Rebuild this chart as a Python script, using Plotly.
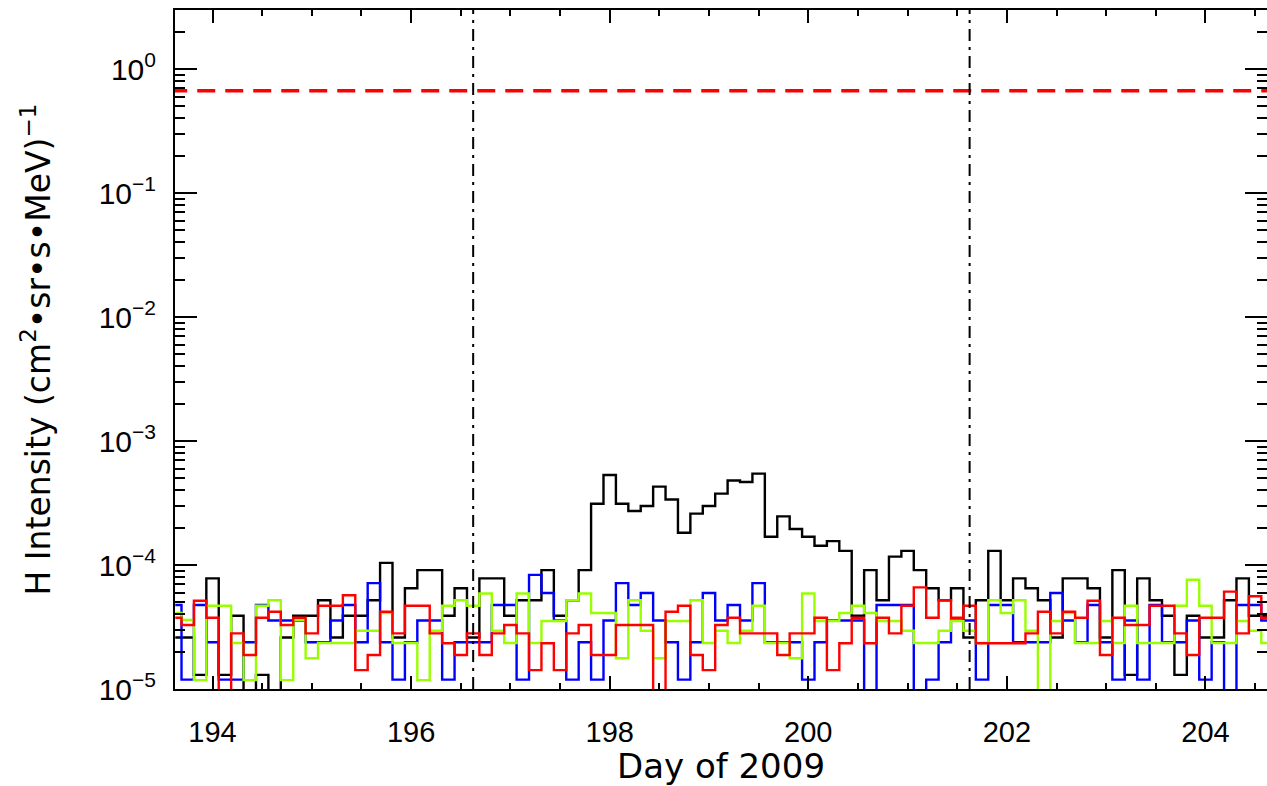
import numpy as np
import plotly.graph_objects as go

# 3-hour bins, centred on day 193.625 + k*0.125
DAY_START = 193.625
BIN_DAYS = 0.125

black_vals = [2.6e-5, 2.6e-5, 1.3e-5, 7.8e-5, 1.3e-5, 3.9e-5, 0, 1.3e-5, 0, 2.6e-5,
              3.9e-5, 3.9e-5, 5.2e-5, 2.6e-5, 3.9e-5, 3.9e-5, 5.2e-5, 1.04e-4, 2.6e-5, 6.5e-5,
              9.1e-5, 9.1e-5, 3.9e-5, 6.5e-5, 2.6e-5, 7.8e-5, 7.8e-5, 3.9e-5, 5.2e-5, 5.2e-5,
              9.1e-5, 3.9e-5, 5.2e-5, 9.1e-5, 3.12e-4, 5.33e-4, 3.12e-4, 2.73e-4, 2.99e-4, 4.29e-4,
              3.38e-4, 1.82e-4, 2.6e-4, 2.99e-4, 3.77e-4, 4.81e-4, 4.68e-4, 5.46e-4, 1.69e-4, 2.47e-4,
              1.95e-4, 1.69e-4, 1.43e-4, 1.56e-4, 1.3e-4, 3.9e-5, 9.1e-5, 5.2e-5, 1.17e-4, 1.3e-4,
              9.1e-5, 6.5e-5, 5.2e-5, 6.5e-5, 2.6e-5, 5.2e-5, 1.3e-4, 5.2e-5, 7.8e-5, 6.5e-5,
              5.2e-5, 2.6e-5, 7.8e-5, 7.8e-5, 6.5e-5, 2.6e-5, 9.1e-5, 1.3e-5, 7.8e-5, 5.2e-5,
              3.9e-5, 1.3e-5, 3.9e-5, 2.6e-5, 2.6e-5, 5.2e-5, 7.8e-5, 3.9e-5, 3.9e-5]

blue_vals = [4.76e-5, 1.19e-5, 4.76e-5, 2.38e-5, 1.19e-5, 1.19e-5, 2.38e-5, 4.76e-5, 3.57e-5, 3.57e-5,
             3.57e-5, 2.38e-5, 2.38e-5, 3.57e-5, 4.76e-5, 2.38e-5, 7.14e-5, 2.38e-5, 1.19e-5, 2.38e-5,
             3.57e-5, 3.57e-5, 1.19e-5, 2.38e-5, 2.38e-5, 2.38e-5, 4.76e-5, 4.76e-5, 1.19e-5, 8.33e-5,
             5.95e-5, 3.57e-5, 1.19e-5, 2.38e-5, 1.19e-5, 3.57e-5, 7.14e-5, 4.76e-5, 5.95e-5, 3.57e-5,
             2.38e-5, 1.19e-5, 2.38e-5, 5.95e-5, 3.57e-5, 4.76e-5, 3.57e-5, 7.14e-5, 2.38e-5, 2.38e-5,
             2.38e-5, 1.19e-5, 2.38e-5, 3.57e-5, 3.57e-5, 3.57e-5, 0, 4.76e-5, 4.76e-5, 4.76e-5,
             0, 1.19e-5, 2.38e-5, 3.57e-5, 3.57e-5, 1.19e-5, 4.76e-5, 4.76e-5, 2.38e-5, 2.38e-5,
             2.38e-5, 5.95e-5, 3.57e-5, 2.38e-5, 4.76e-5, 2.38e-5, 1.19e-5, 3.57e-5, 1.19e-5, 4.76e-5,
             2.38e-5, 2.38e-5, 3.57e-5, 1.19e-5, 2.38e-5, 0, 4.76e-5, 4.76e-5, 3.57e-5]

green_vals = [4.1e-5, 3.6e-5, 1.18e-5, 4.7e-5, 4.7e-5, 2.35e-5, 1.18e-5, 4.7e-5, 5.2e-5, 1.18e-5,
              3.6e-5, 1.77e-5, 2.35e-5, 2.35e-5, 2.35e-5, 2.95e-5, 2.95e-5, 4.1e-5, 2.35e-5, 2.35e-5,
              1.18e-5, 2.95e-5, 4.7e-5, 5.2e-5, 4.7e-5, 5.9e-5, 2.95e-5, 2.35e-5, 5.9e-5, 2.35e-5,
              3.54e-5, 3.54e-5, 5.2e-5, 5.9e-5, 4.1e-5, 4.1e-5, 1.77e-5, 5.2e-5, 2.95e-5, 1.77e-5,
              3.54e-5, 3.54e-5, 5.2e-5, 2.35e-5, 2.95e-5, 2.35e-5, 2.95e-5, 4.7e-5, 2.35e-5, 2.35e-5,
              1.77e-5, 5.9e-5, 3.54e-5, 3.54e-5, 4.1e-5, 4.7e-5, 4.1e-5, 3.54e-5, 3.54e-5, 2.95e-5,
              2.35e-5, 2.35e-5, 2.95e-5, 3.54e-5, 2.95e-5, 2.35e-5, 5.2e-5, 4.1e-5, 5.2e-5, 2.95e-5,
              0, 3.54e-5, 4.1e-5, 2.35e-5, 2.35e-5, 3.54e-5, 2.35e-5, 4.7e-5, 2.35e-5, 2.35e-5,
              2.35e-5, 4.7e-5, 7.6e-5, 4.7e-5, 2.35e-5, 2.35e-5, 3.54e-5, 2.95e-5, 2.35e-5]

red_vals = [3.76e-5, 3.28e-5, 5.15e-5, 3.76e-5, 0, 2.81e-5, 1.88e-5, 3.76e-5, 4.2e-5, 3.28e-5,
            3.76e-5, 2.81e-5, 4.7e-5, 4.7e-5, 5.7e-5, 1.42e-5, 1.88e-5, 4.2e-5, 2.81e-5, 4.7e-5,
            4.7e-5, 2.81e-5, 2.34e-5, 1.88e-5, 2.81e-5, 1.88e-5, 2.81e-5, 3.28e-5, 2.81e-5, 1.42e-5,
            2.34e-5, 1.42e-5, 2.81e-5, 3.28e-5, 1.88e-5, 1.88e-5, 3.28e-5, 3.28e-5, 3.28e-5, 0,
            4.2e-5, 4.7e-5, 1.88e-5, 1.42e-5, 3.28e-5, 3.76e-5, 2.81e-5, 2.81e-5, 2.81e-5, 1.88e-5,
            2.81e-5, 2.81e-5, 3.76e-5, 1.42e-5, 2.34e-5, 3.76e-5, 2.34e-5, 3.76e-5, 2.81e-5, 4.7e-5,
            6.6e-5, 3.76e-5, 5.2e-5, 3.76e-5, 4.7e-5, 2.34e-5, 2.34e-5, 2.34e-5, 2.34e-5, 2.81e-5,
            4.2e-5, 2.81e-5, 4.2e-5, 3.76e-5, 5.15e-5, 1.88e-5, 3.76e-5, 3.28e-5, 3.28e-5, 4.7e-5,
            4.7e-5, 2.81e-5, 1.88e-5, 3.76e-5, 3.76e-5, 6.1e-5, 2.81e-5, 5.6e-5, 3.76e-5]

THRESHOLD = 0.67
EVENT_DAYS = [196.625, 201.625]
X_TICKS = [194, 196, 198, 200, 202, 204]
Y_TICKS = [1e-5, 1e-4, 1e-3, 1e-2, 1e-1, 1e0]
Y_TICK_TEXT = ["10<sup>−5</sup>", "10<sup>−4</sup>", "10<sup>−3</sup>",
               "10<sup>−2</sup>", "10<sup>−1</sup>", "10<sup>0</sup>"]

days = DAY_START + BIN_DAYS * np.arange(len(black_vals))
FLOOR = 1e-8  # zero counts fall below the axis, as in the original


def plot_vals(v):
    return [x if x > 0 else FLOOR for x in v]


fig = go.Figure()
for vals, col in [(black_vals, "#000000"), (blue_vals, "#0000ff"),
                  (green_vals, "#99ff00"), (red_vals, "#ff0000")]:
    fig.add_trace(go.Scatter(x=days, y=plot_vals(vals), mode="lines",
                             line=dict(color=col, width=2.4, shape="hvh"),
                             showlegend=False, hoverinfo="skip"))

fig.add_trace(go.Scatter(x=[193.0, 205.0], y=[THRESHOLD, THRESHOLD], mode="lines",
                         line=dict(color="#ff0000", width=3.5, dash="18px,10px"),
                         showlegend=False, hoverinfo="skip"))

for d in EVENT_DAYS:
    fig.add_shape(type="line", xref="x", yref="paper", x0=d, x1=d, y0=0, y1=1,
                  line=dict(color="black", width=2, dash="12px,6px,3px,6px"))

minor_y = [m * 10.0 ** e for e in range(-6, 1) for m in range(2, 10)]

TICK_FONT = "Liberation Sans, Arial, sans-serif"
TITLE_FONT = "DejaVu Sans, sans-serif"
fig.update_layout(
    width=1267, height=786, autosize=False,
    margin=dict(l=175, r=0, t=10, b=97),
    paper_bgcolor="white", plot_bgcolor="white",
    font=dict(family=TICK_FONT, color="black", size=28),
    xaxis=dict(range=[193.622, 204.62], tickvals=X_TICKS, ticktext=[str(t) for t in X_TICKS],
               ticks="inside", ticklen=13, tickwidth=2, tickcolor="black",
               showline=True, linewidth=2, linecolor="black", mirror="ticks",
               showgrid=False, zeroline=False, ticklabelstandoff=16, automargin=False,
               tickfont=dict(family=TICK_FONT, size=29),
               minor=dict(dtick=0.5, tick0=194, ticks="inside", ticklen=6, tickwidth=2,
                          tickcolor="black", showgrid=False),
               title=dict(text="Day of 2009", font=dict(family=TITLE_FONT, size=34), standoff=7)),
    yaxis=dict(type="log", range=[-5, np.log10(3.0)], tickvals=Y_TICKS, ticktext=Y_TICK_TEXT,
               ticks="inside", ticklen=22, tickwidth=2, tickcolor="black",
               showline=True, linewidth=2, linecolor="black", mirror="ticks",
               showgrid=False, zeroline=False, ticklabelstandoff=11, automargin=False,
               tickfont=dict(family=TICK_FONT, size=30),
               minor=dict(tickvals=minor_y, ticks="inside", ticklen=10, tickwidth=2,
                          tickcolor="black", showgrid=False),
               title=dict(text="H Intensity (cm<sup>2</sup>•sr•s•MeV)<sup>−1</sup>",
                          font=dict(family=TITLE_FONT, size=33), standoff=38)),
)

PAGE_FIX = ("document.body.style.margin='0';document.body.style.padding='0';"
            "document.body.style.overflow='hidden';"
            "var gd=document.getElementById('{plot_id}');"
            "Plotly.relayout(gd,{width:1267,height:786});")

fig.write_html("out.html", post_script=PAGE_FIX,
               config={"displayModeBar": False, "staticPlot": True})
